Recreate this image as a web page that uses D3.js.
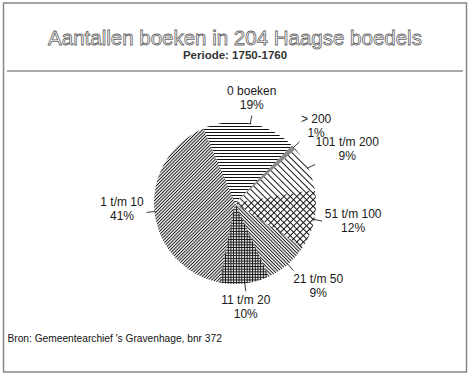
<!DOCTYPE html>
<html>
<head>
<meta charset="utf-8">
<script src="https://cdn.jsdelivr.net/npm/d3@7"></script>
<style>
  body { margin: 0; background: #fff; }
  text { font-family: "Liberation Sans", Arial, Helvetica, sans-serif; }
</style>
</head>
<body>
<script>
const width = 470
const height = 378

// Data: aantal boeken per boedel (percentages)
const categories = ['0 boeken', '> 200', '101 t/m 200', '51 t/m 100', '21 t/m 50', '11 t/m 20', '1 t/m 10']
const percentages = [19, 1, 9, 12, 9, 10, 41]

const title = 'Aantallen boeken in 204 Haagse boedels'
const subtitle = 'Periode: 1750-1760'
const source = "Bron: Gemeentearchief 's Gravenhage, bnr 372"

// arceringen per segment: [afstand, hoek, kruis]
const hatches = [
  [3, 0, false],     // horizontaal
  [2, -45, false],
  [4.6, 45, false],  // \ grof
  [4.6, 45, true],   // ruiten
  [2.4, 45, false],  // \ fijn
  [2.7, 0, true],    // raster
  [2.3, -45, false]  // / fijn
]

// label verschuiving t.o.v. eind van de wijzerlijn
const nudge = [[0, -20.5], [16.5, -19], [32, -18.5], [31, -3.5], [25, 13], [0, 12.6], [-24.5, -6]]

const cx = 235, cy = 203, r = 81

const svg = d3.select('body').append('svg').attr('width', width).attr('height', height)

const defs = svg.append('defs')
hatches.forEach(([s, a, cross], i) => {
  const p = defs.append('pattern')
    .attr('id', 'h' + i)
    .attr('patternUnits', 'userSpaceOnUse')
    .attr('width', s).attr('height', s)
    .attr('patternTransform', `rotate(${a})`)
  p.append('line').attr('x1', 0).attr('x2', s).attr('y1', s / 2).attr('y2', s / 2)
    .attr('stroke', '#111').attr('stroke-width', 1)
  if (cross) {
    p.append('line').attr('y1', 0).attr('y2', s).attr('x1', s / 2).attr('x2', s / 2)
      .attr('stroke', '#111').attr('stroke-width', 1)
  }
})

// kader
svg.append('rect')
  .attr('x', 3.5).attr('y', 3).attr('width', 463).attr('height', 369)
  .attr('fill', 'none').attr('stroke', '#888').attr('stroke-width', 1.5)

svg.append('line')
  .attr('x1', 7).attr('x2', 463).attr('y1', 71).attr('y2', 71)
  .attr('stroke', '#555').attr('stroke-width', 1)

svg.append('text')
  .attr('x', 235).attr('y', 45)
  .attr('text-anchor', 'middle')
  .attr('font-size', '20.5px')
  .attr('fill', '#fff').attr('stroke', '#666').attr('stroke-width', 0.8)
  .text(title)

svg.append('text')
  .attr('x', 235).attr('y', 58.5)
  .attr('text-anchor', 'middle')
  .attr('font-size', '11.5px').attr('font-weight', 'bold')
  .attr('fill', '#333')
  .text(subtitle)

svg.append('text')
  .attr('x', 7.5).attr('y', 342)
  .attr('font-size', '10.2px')
  .attr('fill', '#111')
  .text(source)

// taart
const start = -23 * Math.PI / 180
const pie = d3.pie().sort(null).value(d => d)
  .startAngle(start).endAngle(start + 2 * Math.PI)
const arcs = pie(percentages)
const arc = d3.arc().innerRadius(0).outerRadius(r)

const chart = svg.append('g').attr('transform', `translate(${cx},${cy})`)

chart.selectAll('path.slice')
  .data(arcs)
  .join('path')
  .attr('class', 'slice')
  .attr('d', arc)
  .attr('fill', (d, i) => `url(#h${i})`)

const point = (a, rad) => [Math.sin(a) * rad, -Math.cos(a) * rad]

chart.selectAll('line.leader')
  .data(arcs)
  .join('line')
  .attr('class', 'leader')
  .each(function (d) {
    const m = (d.startAngle + d.endAngle) / 2
    const [x1, y1] = point(m, r - 1)
    const [x2, y2] = point(m, r + 8)
    d3.select(this).attr('x1', x1).attr('y1', y1).attr('x2', x2).attr('y2', y2)
  })
  .attr('stroke', '#222').attr('stroke-width', 0.9)

const labels = chart.selectAll('g.label')
  .data(arcs)
  .join('g')
  .attr('class', 'label')
  .attr('transform', (d, i) => {
    const [x, y] = point((d.startAngle + d.endAngle) / 2, r + 8)
    return `translate(${x + nudge[i][0]},${y + nudge[i][1]})`
  })

labels.append('text')
  .attr('text-anchor', 'middle')
  .attr('font-size', '12px').attr('fill', '#1a1a1a')
  .text((d, i) => categories[i])

labels.append('text')
  .attr('y', 14)
  .attr('text-anchor', 'middle')
  .attr('font-size', '12px').attr('fill', '#1a1a1a')
  .text(d => d.data + '%')
</script>
</body>
</html>
